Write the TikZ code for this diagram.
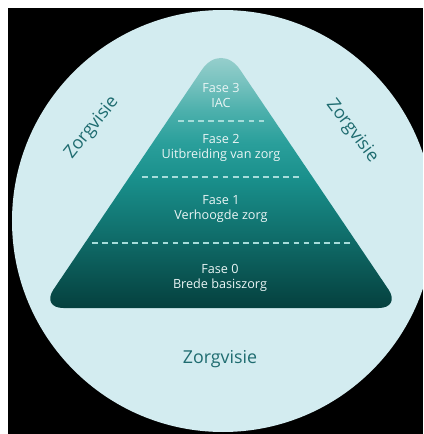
\documentclass[tikz,border=0pt]{standalone}
\usepackage{fontspec}
\setmainfont{Open Sans}
\usetikzlibrary{positioning,calc}
\definecolor{frame}{HTML}{000000}
\definecolor{disc}{HTML}{D3ECF0}
\definecolor{peak}{HTML}{A9D6D4}
\definecolor{pale}{HTML}{7CC4C1}
\definecolor{light}{HTML}{4CB0AC}
\definecolor{bright}{HTML}{2A9F9B}
\definecolor{teal}{HTML}{198F8B}
\definecolor{dark}{HTML}{0F6B68}
\definecolor{deep}{HTML}{05403E}
\definecolor{dashc}{HTML}{A6DCDA}
\definecolor{label}{HTML}{EAF5F5}
\definecolor{vision}{HTML}{1F6C70}
\pgfdeclareverticalshading{pyramid}{100bp}{color(0bp)=(deep); color(25bp)=(deep);
  color(37.8bp)=(dark); color(49bp)=(teal); color(56bp)=(bright);
  color(62bp)=(light); color(68bp)=(pale); color(75bp)=(peak); color(100bp)=(peak)}

\begin{document}
\begin{tikzpicture}[x=0.03cm,y=0.03cm]
\tikzset{
  phase/.style={text=label,font=\fontsize{10.8}{12.8}\selectfont,align=center,inner sep=0pt},
  visie/.style={text=vision,font=\fontsize{15.2}{16}\selectfont,inner sep=0pt},
  sep/.style={dashc,line width=1.3pt,dash pattern=on 5pt off 3.6pt}
}
\useasboundingbox (0,0) rectangle (424,434);
\fill[white] (0,0) rectangle (424,434);
\fill[frame] (8,0) rectangle (423,426);
% disc behind the pyramid
\begin{scope}
\clip (8,0) rectangle (423,426);
\fill[disc] (223,213) circle (211);
\end{scope}
% pyramid
\coordinate (top) at (221,392.5);
\coordinate (bl) at (41,126);
\coordinate (br) at (401,126);
\shade[shading=pyramid]
  ($(bl)!0.5!(br)$) [rounded corners=19pt] -- (br) [rounded corners=29pt] -- (top) [rounded corners=19pt] -- (bl) -- cycle;
% separators
\coordinate (s3a) at (178,313); \coordinate (s3b) at (268,313);
\coordinate (s2a) at (142,257); \coordinate (s2b) at (303,257);
\coordinate (s1a) at (92,191);  \coordinate (s1b) at (352,191);
\draw[sep] (s3a) -- (s3b);
\draw[sep] (s2a) -- (s2b);
\draw[sep] (s1a) -- (s1b);
% phases
\node[phase] (f3) at (221,338.5) {Fase 3\\IAC};
\node[phase] (f2) at (221,286.5) {Fase 2\\Uitbreiding van zorg};
\node[phase] (f1) at (221,224.5) {Fase 1\\Verhoogde zorg};
\node[phase] (f0) at (220,156.5) {Fase 0\\Brede basiszorg};
% vision labels
\node[visie,rotate=51] (vl) at (92,306) {Zorgvisie};
\node[visie,rotate=-53] (vr) at (352,303) {Zorgvisie};
\node[visie] (vb) at (220,75) {Zorgvisie};
\end{tikzpicture}
\end{document}
